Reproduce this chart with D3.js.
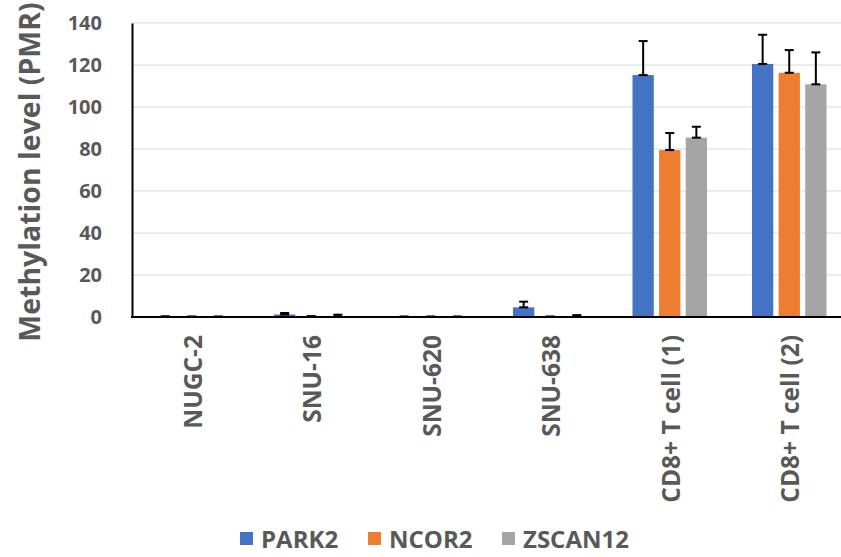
<!DOCTYPE html>
<html>
<head>
  <style>
    body { margin: 0; background: white; }
    text { font-family: "Open Sans", Arial, sans-serif; font-weight: bold; fill: #595959; }
  </style>
</head>
<body>
  <div id="chart"></div>
  <script src="https://cdnjs.cloudflare.com/ajax/libs/d3/7.8.5/d3.min.js"></script>
  <script>
    // Datos
    const categories = ["NUGC-2", "SNU-16", "SNU-620", "SNU-638", "CD8+ T cell (1)", "CD8+ T cell (2)"];
    const seriesNames = ["PARK2", "NCOR2", "ZSCAN12"];
    const colors = ["#4472C4", "#ED7D31", "#A5A5A5"];
    const park2 = [0.2, 1.2, 0.1, 4.6, 115.2, 120.5];
    const park2Err = [0.1, 0.7, 0.1, 2.7, 16.2, 13.9];
    const ncor2 = [0.1, 0.2, 0.1, 0.1, 79.5, 116.3];
    const ncor2Err = [0.1, 0.2, 0.1, 0.1, 8.1, 10.8];
    const zscan12 = [0.1, 0.3, 0.1, 0.3, 85.4, 110.8];
    const zscan12Err = [0.1, 0.8, 0.1, 0.6, 5.2, 15.2];
    const yTicks = [0, 20, 40, 60, 80, 100, 120, 140];

    const values = [park2, ncor2, zscan12];
    const errors = [park2Err, ncor2Err, zscan12Err];

    const width = 841;
    const height = 557;
    const plotLeft = 132, plotTop = 23, plotBottom = 317;
    const step = 119.5;

    const svg = d3.select("#chart").append("svg")
      .attr("width", width)
      .attr("height", height);

    const x = d3.scaleBand()
      .domain(categories)
      .range([plotLeft, plotLeft + step * categories.length]);

    const xInner = d3.scaleBand()
      .domain(seriesNames)
      .range([0, 74.5])
      .paddingInner(0.2);

    const y = d3.scaleLinear()
      .domain([0, 140])
      .range([plotBottom, plotTop]);

    // Líneas de cuadrícula
    svg.append("g")
      .selectAll("line")
      .data(yTicks.filter(d => d > 0))
      .join("line")
      .attr("x1", plotLeft)
      .attr("x2", width)
      .attr("y1", d => y(d))
      .attr("y2", d => y(d))
      .attr("stroke", "#d9d9d9")
      .attr("stroke-width", 1.2);

    // Eje Y
    const yAxis = svg.append("g")
      .attr("transform", `translate(${plotLeft},0)`)
      .call(d3.axisLeft(y).tickValues(yTicks).tickSize(0).tickPadding(30));
    yAxis.select(".domain").attr("stroke", "black").attr("stroke-width", 2);
    yAxis.selectAll("text")
      .style("font-size", "20px")
      .attr("fill", "#595959");

    svg.append("text")
      .attr("transform", `translate(40,${(plotTop + plotBottom) / 2 + 2}) rotate(-90)`)
      .attr("text-anchor", "middle")
      .style("font-size", "28.5px")
      .text("Methylation level (PMR)");

    // Barras
    const groups = svg.append("g")
      .selectAll("g")
      .data(categories)
      .join("g")
      .attr("transform", d => `translate(${x(d) + (x.bandwidth() - 74.5) / 2},0)`);

    groups.each(function(cat, ci) {
      const g = d3.select(this);
      seriesNames.forEach((s, si) => {
        const v = values[si][ci];
        const e = errors[si][ci];
        const bx = xInner(s);
        g.append("rect")
          .attr("x", bx)
          .attr("y", y(v))
          .attr("width", xInner.bandwidth())
          .attr("height", y(0) - y(v))
          .attr("fill", colors[si]);

        const cx = bx + xInner.bandwidth() / 2;
        g.append("line")
          .attr("x1", cx).attr("x2", cx)
          .attr("y1", y(v)).attr("y2", y(v + e))
          .attr("stroke", "black").attr("stroke-width", 2);
        [v, v + e].forEach(val => {
          g.append("line")
            .attr("x1", cx - 4.5).attr("x2", cx + 4.5)
            .attr("y1", y(val)).attr("y2", y(val))
            .attr("stroke", "black").attr("stroke-width", 2);
        });
      });
    });

    // Eje X
    const xAxis = svg.append("g")
      .attr("transform", `translate(0,${plotBottom})`)
      .call(d3.axisBottom(x).tickSize(0).tickPadding(0));
    xAxis.select(".domain").remove();
    svg.append("line")
      .attr("x1", plotLeft - 1).attr("x2", width)
      .attr("y1", plotBottom).attr("y2", plotBottom)
      .attr("stroke", "black").attr("stroke-width", 2);
    xAxis.selectAll("text")
      .attr("transform", "translate(10,18) rotate(-90)")
      .attr("text-anchor", "end")
      .attr("dy", 0)
      .attr("x", 0).attr("y", 0)
      .style("font-size", "24.5px");

    // Leyenda
    const legendX = [240, 368, 502];
    const legend = svg.append("g");
    seriesNames.forEach((s, i) => {
      legend.append("rect")
        .attr("x", legendX[i]).attr("y", 532)
        .attr("width", 13).attr("height", 13)
        .attr("fill", colors[i]);
      legend.append("text")
        .attr("x", legendX[i] + 21).attr("y", 548)
        .style("font-size", "24px")
        .text(s);
    });
  </script>
</body>
</html>
